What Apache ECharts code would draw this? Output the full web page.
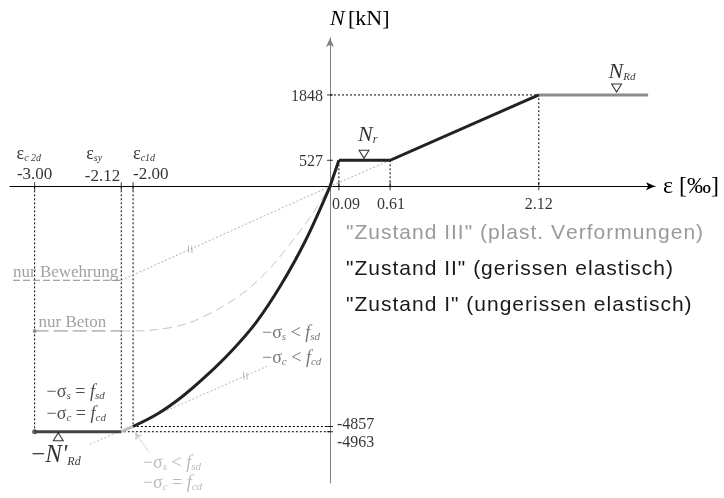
<!DOCTYPE html>
<html><head><meta charset="utf-8">
<script src="https://cdn.jsdelivr.net/npm/echarts@6/dist/echarts.min.js"></script>
<style>html,body{margin:0;padding:0;background:#fff}#c{width:724px;height:498px}</style>
</head><body><div id="c"></div>
<script>
// Normalkraft-Dehnungs-Diagramm: strain ε [‰] against normal force N [kN]

// axis ticks
const strainTicksNeg = [-3.00, -2.12, -2.00];
const strainSymbols = ['c 2d', 'sy', 'c1d'];
const strainTicksPos = [0.09, 0.61, 2.12];
const forceTicksPos = [527, 1848];
const forceTicksNeg = [-4857, -4963];

// "Zustand II": compression branch (curved)
const curveStrain = [-2.00, -1.75, -1.50, -1.25, -1.00, -0.75, -0.50, -0.25, 0];
const curveForce  = [-4857, -4600, -4250, -3820, -3330, -2750, -2000, -1100, 0];
// "Zustand I" up to the cracking force N_r
const stateIStrain = [0, 0.09];
const stateIForce  = [0, 527];
// "Zustand II": tension branch
const stateIIStrain = [0.09, 0.61, 2.12];
const stateIIForce  = [527, 527, 1848];
// "Zustand III": plastic plateaus
const plateauTopStrain = [2.12, 3.23];
const plateauTopForce  = [1848, 1848];
const plateauBotStrain = [-3.00, -2.12];
const plateauBotForce  = [-4963, -4963];
const transitionStrain = [-2.12, -2.00];
const transitionForce  = [-4963, -4857];

// nur Beton (concrete alone)
const betonFlatStrain = [-3.00, -2.12];
const betonFlatForce  = [-2925, -2925];
const betonStrain = [-2.12, -2.00, -1.60, -1.32, -0.91, -0.64, -0.44, -0.20, 0];
const betonForce  = [-2925, -2925, -2850, -2670, -2200, -1720, -1250, -620, 0];
// nur Bewehrung (reinforcement alone)
const stahlFlatStrain = [-3.22, -2.12];
const stahlFlatForce  = [-1900, -1900];
const stahlStrain = [-2.12, 0, 0.61];
const stahlForce  = [-1900, 0, 527];
// reinforcement line shifted by the concrete force at f_cd
const shiftedStrain = [-2.44, -0.64];
const shiftedForce  = [-5220, -3640];
// pointer to the transition
const pointerStrain = [-1.84, -1.98];
const pointerForce  = [-5364, -4985];
// "parallel" marks on the two reinforcement lines
const parallelStrain = [-1.42, -0.86];
const parallelForce  = [-1273, -3833];

// marker positions of the characteristic forces
const nrStrain = 0.345, nrdStrain = 2.91, nrdNegStrain = -2.76;

const serif = 'Liberation Serif';
const sans = 'Liberation Sans';
const pairs = (xs, ys) => xs.map((x, i) => [x, ys[i]]);

// the state descriptions (sans-serif, left aligned) are set slightly spaced out
(function () {
  const proto = CanvasRenderingContext2D.prototype;
  const fill = proto.fillText;
  proto.fillText = function (t, x, y, w) {
    if (typeof t === 'string' && t.length > 1 && this.font.indexOf(sans) >= 0 &&
        (this.textAlign === 'left' || this.textAlign === 'start')) {
      let cx = x;
      for (const ch of t) {
        fill.call(this, ch, cx, y);
        cx += this.measureText(ch).width + 1.0;
      }
      return;
    }
    return fill.apply(this, arguments);
  };
})();

function line(name, xs, ys, color, width, type, extra) {
  return Object.assign({
    type: 'line', name, data: pairs(xs, ys), symbol: 'none', silent: true,
    animation: false, lineStyle: { color, width, type: type || 'solid', cap: 'butt', join: 'miter' }, z: 3
  }, extra || {});
}

function rich(color, size, sub) {
  return {
    m: { fontFamily: serif, fontSize: size, color, lineHeight: size + 4, verticalAlign: 'bottom' },
    i: { fontFamily: serif, fontSize: size, fontStyle: 'italic', color, lineHeight: size + 4, verticalAlign: 'bottom' },
    s: { fontFamily: serif, fontSize: sub, fontStyle: 'italic', color, lineHeight: sub + 1, verticalAlign: 'bottom' }
  };
}

function text(x, y, formatter, color, size, sub, dx, dy, align) {
  return {
    value: [x, y],
    label: {
      show: true, formatter, position: [dx, dy], align: align || 'left', verticalAlign: 'middle',
      rich: rich(color, size, sub)
    }
  };
}

const guides = [
  [[0, forceTicksPos[1]], [strainTicksPos[2], forceTicksPos[1]], [strainTicksPos[2], 0]],
  [[strainTicksPos[0], forceTicksPos[0]], [strainTicksPos[0], 0]],
  [[strainTicksPos[1], forceTicksPos[0]], [strainTicksPos[1], 0]],
  [[strainTicksNeg[0], 0], [strainTicksNeg[0], forceTicksNeg[1]]],
  [[strainTicksNeg[1], 0], [strainTicksNeg[1], forceTicksNeg[1]], [0, forceTicksNeg[1]]],
  [[strainTicksNeg[2], 0], [strainTicksNeg[2], forceTicksNeg[0]], [0, forceTicksNeg[0]]]
];

const labels = [];
strainTicksNeg.forEach((v, k) => {
  const fmt = v.toFixed(2);
  const pos = k === 0 ? [[0, -14, 'center'], [-18, -34]] : k === 1 ? [[-1, -12, 'right'], [-35, -34]] : [[0, -14, 'left'], [0, -34]];
  labels.push(text(v, 0, '{m|' + fmt + '}', '#000', 17, 10, pos[0][0], pos[0][1], pos[0][2]));
  labels.push(text(v, 0, '{m|ε}{s|' + strainSymbols[k] + '}', '#000', 18, 10, pos[1][0], pos[1][1], 'left'));
});
const posOffsets = [7, 1, 0];
strainTicksPos.forEach((v, k) => labels.push(text(v, 0, '{m|' + v.toFixed(2) + '}', '#000', 16, 10, posOffsets[k], 16, 'center')));
forceTicksPos.forEach(v => labels.push(text(0, v, '{m|' + v + '}', '#000', 16, 10, -7, 0, 'right')));
labels.push(text(0, forceTicksNeg[0], '{m|' + forceTicksNeg[0] + '}', '#000', 16, 10, 7, -4, 'left'));
labels.push(text(0, forceTicksNeg[1], '{m|' + forceTicksNeg[1] + '}', '#000', 16, 10, 7, 9, 'left'));

labels.push(text(stahlFlatStrain[1], stahlFlatForce[1], '{m|nur Bewehrung}', '#8a8a8a', 17, 10, -3, -10, 'right'));
labels.push(text(betonFlatStrain[0], betonFlatForce[0], '{m|nur Beton}', '#8a8a8a', 17, 10, 4, -10, 'left'));

labels.push(text(plateauBotStrain[0], plateauBotForce[0], '{m|−σ}{s|s}{m| = }{i|f}{s|sd}', '#222', 18, 11, 12, -41, 'left'));
labels.push(text(plateauBotStrain[0], plateauBotForce[0], '{m|−σ}{s|c}{m| = }{i|f}{s|cd}', '#222', 18, 11, 12, -19, 'left'));
labels.push(text(shiftedStrain[1], shiftedForce[1], '{m|−σ}{s|s}{m| < }{i|f}{s|sd}', '#555', 18, 11, -5, -35, 'left'));
labels.push(text(shiftedStrain[1], shiftedForce[1], '{m|−σ}{s|c}{m| < }{i|f}{s|cd}', '#555', 18, 11, -5, -10, 'left'));
labels.push(text(pointerStrain[0], pointerForce[0], '{m|−σ}{s|s}{m| < }{i|f}{s|sd}', '#aaa', 18, 11, -6, 10, 'left'));
labels.push(text(pointerStrain[0], pointerForce[0], '{m|−σ}{s|c}{m| = }{i|f}{s|cd}', '#aaa', 18, 11, -6, 30, 'left'));

labels.push(text(nrStrain, forceTicksPos[0], '{i|N}{s|r}', '#000', 22, 12, -6, -27, 'left'));
labels.push(text(nrdStrain, forceTicksPos[1], '{i|N}{s|Rd}', '#000', 22, 11, -8, -25, 'left'));
labels.push(text(nrdNegStrain, plateauBotForce[0], '{m|−}{i|N\'}{s|Rd}', '#000', 25, 12, -27, 22, 'left'));

const triangles = [
  { value: [nrStrain, forceTicksPos[0]], symbolRotate: 180, symbolOffset: [0, -6] },
  { value: [nrdStrain, forceTicksPos[1]], symbolRotate: 180, symbolOffset: [0, -7] },
  { value: [nrdNegStrain, plateauBotForce[0]], symbolRotate: 0, symbolOffset: [0, 5] }
];

const series = [];
guides.forEach(g => series.push({
  type: 'line', data: g, symbol: 'none', silent: true, animation: false,
  lineStyle: { color: '#000', width: 1, type: [2, 2] }, z: 2
}));
series.push(
  line('nur Bewehrung', stahlFlatStrain, stahlFlatForce, '#8a8a8a', 1, [7, 3]),
  line('nur Bewehrung', stahlStrain, stahlForce, '#b0b0b0', 1, [2, 2]),
  line('nur Beton', betonFlatStrain, betonFlatForce, '#8a8a8a', 1, [14, 5]),
  line('nur Beton', betonStrain, betonForce, '#c4c4c4', 1, [9, 5], { smooth: 0.35 }),
  line('shifted', shiftedStrain, shiftedForce, '#b8b8b8', 1, [2, 2]),
  line('"Zustand III" (plast. Verformungen)', plateauTopStrain, plateauTopForce, '#8c8c8c', 3),
  line('"Zustand III" (plast. Verformungen)', plateauBotStrain, plateauBotForce, '#444', 3),
  line('"Zustand III" (plast. Verformungen)', transitionStrain, transitionForce, '#c0c0c0', 3),
  line('"Zustand II" (gerissen elastisch)', curveStrain, curveForce, '#222', 3, 'solid', { smooth: 0.35 }),
  line('"Zustand II" (gerissen elastisch)', stateIIStrain, stateIIForce, '#222', 3),
  line('"Zustand I" (ungerissen elastisch)', stateIStrain, stateIForce, '#222', 3)
);
series.push({
  type: 'lines', coordinateSystem: 'cartesian2d', silent: true, animation: false,
  symbol: ['none', 'arrow'], symbolSize: 7,
  lineStyle: { color: '#aaa', width: 1 },
  data: [{ coords: pairs(pointerStrain, pointerForce) }], z: 4
});
// double-stroke marks on the parallel lines
series.push({
  type: 'scatter', silent: true, animation: false,
  symbol: 'path://M0 0 L2 8 M4 0 L6 8', symbolSize: [5, 7], symbolRotate: -10,
  itemStyle: { color: 'none', borderColor: '#999', borderWidth: 1 },
  data: pairs(parallelStrain, parallelForce), z: 4
});
// axis ticks straddling the axes
series.push({
  type: 'scatter', silent: true, animation: false, symbol: 'rect', symbolSize: [1, 8],
  itemStyle: { color: '#000' }, data: strainTicksNeg.concat(strainTicksPos).map(v => [v, 0]), z: 5
});
series.push({
  type: 'scatter', silent: true, animation: false, symbol: 'rect', symbolSize: [6, 1],
  itemStyle: { color: '#000' }, data: forceTicksPos.concat(forceTicksNeg).map(v => [0, v]), z: 5
});
series.push({
  type: 'scatter', silent: true, animation: false, symbol: 'circle', symbolSize: 5,
  itemStyle: { color: '#444' }, data: [[plateauBotStrain[0], plateauBotForce[0]]], z: 5
});
series.push({
  type: 'scatter', silent: true, animation: false, symbol: 'circle', symbolSize: 4,
  itemStyle: { color: '#888' }, data: [[betonFlatStrain[0], betonFlatForce[0]]], z: 5
});
series.push({
  type: 'scatter', silent: true, animation: false, symbol: 'triangle', symbolSize: [10, 8],
  itemStyle: { color: '#fff', borderColor: '#000', borderWidth: 1 }, data: triangles, z: 6
});
series.push({
  type: 'scatter', silent: true, animation: false, symbolSize: 0, data: labels, z: 7
});

const chart = echarts.init(document.getElementById('c'));
chart.setOption({
  animation: false,
  backgroundColor: '#fff',
  grid: { left: 10, right: 69, top: 38, bottom: 15, containLabel: false, outerBoundsMode: 'none' },
  legend: {
    orient: 'vertical', left: 336, top: 210, icon: 'none', itemWidth: 0, itemHeight: 0, itemGap: 0,
    selectedMode: false,
    textStyle: { fontFamily: sans, fontSize: 21, lineHeight: 36 },
    data: [
      { name: '"Zustand III" (plast. Verformungen)', textStyle: { color: '#9a9a9a' } },
      { name: '"Zustand II" (gerissen elastisch)', textStyle: { color: '#1a1a1a' } },
      { name: '"Zustand I" (ungerissen elastisch)', textStyle: { color: '#1a1a1a' } }
    ]
  },
  xAxis: {
    type: 'value', min: -3.25, max: 3.3,
    name: 'ε [‰]', nameLocation: 'end', nameGap: 8,
    nameTextStyle: { fontFamily: serif, fontSize: 24, color: '#000', verticalAlign: 'middle' },
    axisLine: { onZero: true, symbol: ['none', 'arrow'], symbolSize: [6, 9], lineStyle: { color: '#000', width: 1 } },
    axisTick: { show: false }, axisLabel: { show: false }, splitLine: { show: false }
  },
  yAxis: {
    type: 'value', min: -6000, max: 3000,
    name: '{i|N} {n|[kN]}', nameLocation: 'end', nameGap: 8,
    nameTextStyle: {
      align: 'left', verticalAlign: 'bottom',
      rich: {
        i: { fontFamily: serif, fontSize: 22, fontStyle: 'italic', color: '#000' },
        n: { fontFamily: serif, fontSize: 22, color: '#000' }
      }
    },
    axisLine: { onZero: true, symbol: ['none', 'arrow'], symbolSize: [6, 9], lineStyle: { color: '#808080', width: 1 } },
    axisTick: { show: false }, axisLabel: { show: false }, splitLine: { show: false }
  },
  series
});
</script>
</body></html>
